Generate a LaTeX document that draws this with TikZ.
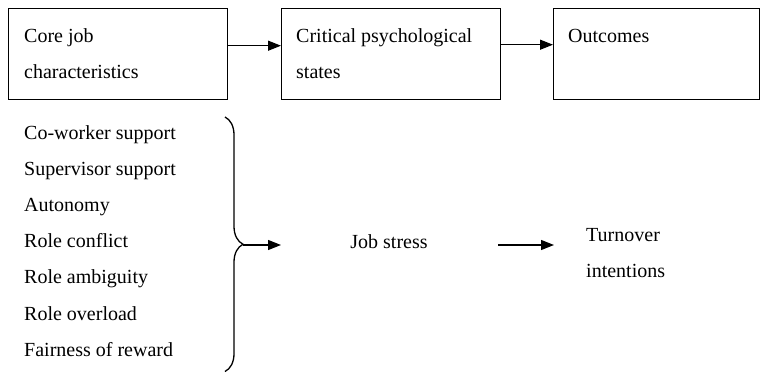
\documentclass[tikz,border=0pt]{standalone}
\usepackage{fontspec}
\setmainfont{Liberation Serif}
\usetikzlibrary{arrows.meta,decorations.pathreplacing}
\tikzset{
  box/.style={draw, line width=1.4pt, minimum width=219pt, minimum height=91pt,
    inner sep=0pt, anchor=north west},
  txt/.style={anchor=base west, align=left, inner sep=0pt,
    font=\fontsize{20}{36}\selectfont},
  arr/.style={-{Triangle[length=13pt,width=10pt]}, line width=1.3pt},
}
\begin{document}
\begin{tikzpicture}[x=1pt,y=-1pt]
  \useasboundingbox (0,0) rectangle (760,372);
  % top row
  \node[box] (core) at (8,8) {};
  \node[box] (crit) at (281,8) {};
  \node[box, minimum width=206pt] (out) at (553,8) {};
  \node[txt] (coretxt) at ([shift={(16,70)}]core.north west) {Core job\\characteristics};
  \node[txt] (crittxt) at ([shift={(15,70)}]crit.north west) {Critical psychological\\states};
  \node[txt] (outtxt) at ([shift={(15,34)}]out.north west) {Outcomes};
  \draw[arr] ([yshift=8.5pt]core.east) -- ([yshift=8.5pt]crit.west);
  \draw[arr] ([yshift=9.5pt]crit.east) -- ([yshift=9.5pt]out.west);
  % factors
  \foreach \t [count=\i] in {Co-worker support, Supervisor support, Autonomy,
      Role conflict, Role ambiguity, Role overload, Fairness of reward}
    \node[txt] (f\i) at (24,{102.8+36.2*\i}) {\t};
  \draw[decorate, decoration={brace, amplitude=18pt}, line width=1.3pt]
    (225,117) -- (225,371.5);
  \coordinate (tip) at (243,245);
  \coordinate (tipend) at (281,245);
  \node[txt, anchor=base] (stress) at (389,248) {Job stress};
  \node[txt] (turn) at (586,277) {Turnover\\intentions};
  \coordinate (s1) at (498,245);
  \coordinate (s2) at (554,245);
  \draw[arr] (tip) -- (tipend);
  \draw[arr] (s1) -- (s2);
\end{tikzpicture}
\end{document}
